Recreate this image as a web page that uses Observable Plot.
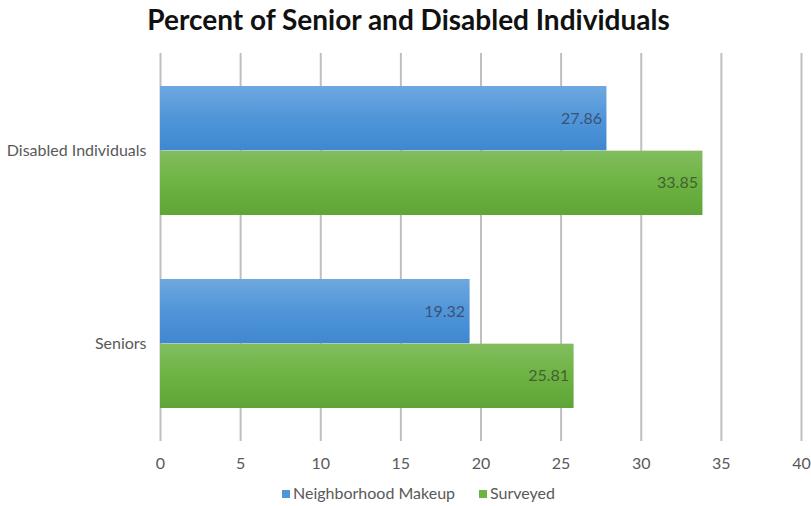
<!DOCTYPE html>
<html>
<head>
<meta charset="utf-8">
<script src="https://cdn.jsdelivr.net/npm/d3@7"></script>
<script src="https://cdn.jsdelivr.net/npm/@observablehq/plot@0.6"></script>
<style>
  html, body { margin: 0; padding: 0; background: #fff; }
  body { width: 811px; height: 506px; overflow: hidden; font-family: Lato, "Open Sans", sans-serif; }
  #title { height: 40px; line-height: 38px; text-align: center; font-size: 28px; font-weight: bold; color: #111; padding-left: 6px; }
  #legend { height: 26px; line-height: 26px; text-align: center; font-size: 16px; color: #595959; padding-left: 26px; }
  #legend span.item { display: inline-block; margin: 0 12px; }
  #legend span.sw { display: inline-block; width: 8px; height: 8px; margin-right: 3px; vertical-align: 1px; }
</style>
</head>
<body>
<div id="title">Percent of Senior and Disabled Individuals</div>
<div id="chart"></div>
<div id="legend"></div>
<script>
const categories = ["Disabled Individuals", "Seniors"];
const seriesNames = ["Neighborhood Makeup", "Surveyed"];
const neighborhoodMakeup = [27.86, 19.32];
const surveyed = [33.85, 25.81];
const xTicks = [0, 5, 10, 15, 20, 25, 30, 35, 40];
const seriesColors = ["#5095d9", "#6db343"];

const rowsN = categories.map((c, i) => ({category: c, series: seriesNames[0], value: neighborhoodMakeup[i]}));
const rowsS = categories.map((c, i) => ({category: c, series: seriesNames[1], value: surveyed[i]}));

const W = 811, H = 440, mTop = 13, mBottom = 39, mLeft = 160, mRight = 10;
const padInner = 0.33, padOuter = 0.17;
const step = (H - mTop - mBottom) / (categories.length - padInner + 2 * padOuter);
const bw = step * (1 - padInner);
const half = bw / 2;

const plot = Plot.plot({
  width: W,
  height: H,
  marginTop: mTop,
  marginBottom: mBottom,
  marginLeft: mLeft,
  marginRight: mRight,
  style: {fontFamily: "Lato, 'Open Sans', sans-serif", fontSize: "16px", color: "#595959", background: "#fff"},
  x: {domain: [0, 40]},
  y: {domain: categories, paddingInner: padInner, paddingOuter: padOuter},
  marks: [
    Plot.gridX(xTicks, {stroke: "#bfbfbf", strokeOpacity: 1, strokeWidth: 2}),
    Plot.barX(rowsN, {x: "value", y: "category", fill: "url(#gBlue)", insetBottom: half}),
    Plot.barX(rowsS, {x: "value", y: "category", fill: "url(#gGreen)", insetTop: half}),
    Plot.text(rowsN, {x: "value", y: "category", text: d => d.value.toFixed(2), dy: -bw / 4, dx: -5, textAnchor: "end", fill: "#33415a", fillOpacity: 0.8, fontSize: 16}),
    Plot.text(rowsS, {x: "value", y: "category", text: d => d.value.toFixed(2), dy: bw / 4, dx: -5, textAnchor: "end", fill: "#354a2a", fillOpacity: 0.8, fontSize: 16}),
    Plot.axisX({ticks: xTicks, tickSize: 0, tickPadding: 16, fontSize: 16, fill: "#595959", label: null}),
    Plot.axisY({tickSize: 0, tickPadding: 14, fontSize: 16, fill: "#595959", label: null})
  ]
});

plot.insertAdjacentHTML("afterbegin", `
<defs>
  <linearGradient id="gBlue" x1="0" y1="0" x2="0" y2="1">
    <stop offset="0" stop-color="#6ea8e0"/>
    <stop offset="0.5" stop-color="#5095d9"/>
    <stop offset="1" stop-color="#3f87d0"/>
  </linearGradient>
  <linearGradient id="gGreen" x1="0" y1="0" x2="0" y2="1">
    <stop offset="0" stop-color="#82bd5e"/>
    <stop offset="0.5" stop-color="#6db343"/>
    <stop offset="1" stop-color="#5fa437"/>
  </linearGradient>
</defs>`);
document.getElementById("chart").appendChild(plot);

const legend = document.getElementById("legend");
seriesNames.forEach((name, i) => {
  const item = document.createElement("span");
  item.className = "item";
  const sw = document.createElement("span");
  sw.className = "sw";
  sw.style.background = seriesColors[i];
  item.appendChild(sw);
  item.appendChild(document.createTextNode(name));
  legend.appendChild(item);
});
</script>
</body>
</html>
